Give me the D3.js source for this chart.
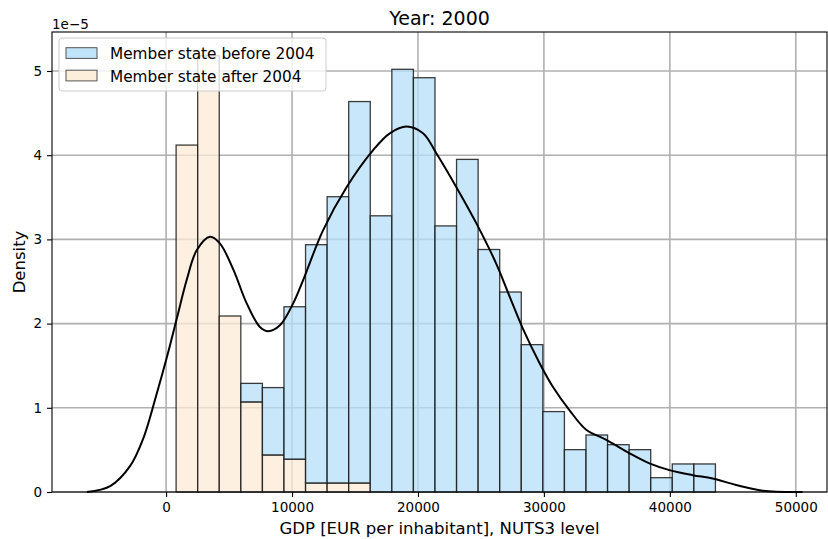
<!DOCTYPE html>
<html>
<head>
<meta charset="utf-8">
<script src="https://cdn.jsdelivr.net/npm/d3@7"></script>
<style>
  body { margin: 0; background: #fff; }
  svg text { font-family: "DejaVu Sans", sans-serif; fill: #000; }
</style>
</head>
<body>
<div id="chart"></div>
<script>
// histogram bins (EUR per inhabitant)
var binEdges = [795, 2508, 4221, 5934, 7647, 9360, 11073, 12786, 14499, 16212, 17925, 19638,
  21351, 23064, 24777, 26490, 28203, 29916, 31629, 33342, 35055, 36768, 38481, 40194, 41907, 43620];

// density in units of 1e-5, stacked
var afterDensity = [4.12, 5.18, 2.09, 1.07, 0.44, 0.39, 0.107, 0.107, 0.107, 0, 0, 0, 0,
  0, 0, 0, 0, 0, 0, 0, 0, 0, 0, 0, 0];
var beforeDensity = [0, 0, 0, 0.22, 0.80, 1.81, 2.83, 3.40, 4.53, 3.28, 5.02, 4.92, 3.16,
  3.95, 2.88, 2.375, 1.75, 0.955, 0.503, 0.677, 0.562, 0.503, 0.170, 0.333, 0.333];

// kde curve
var kdeX = [-6290, -4440, -2850, -1800, -740, 60, 850, 1640, 2430, 3490, 4280, 5340, 6400,
  7450, 8110, 9040, 10090, 10890, 12470, 14330, 16440, 17760, 19090, 20400, 21470, 23050,
  24640, 26220, 27280, 28330, 29660, 30710, 32040, 33360, 34950, 36800, 38380, 39970,
  41820, 43400, 45260, 47370, 50540];
var kdeY = [0.0, 0.07, 0.31, 0.64, 1.17, 1.60, 2.06, 2.52, 2.87, 3.03, 2.95, 2.64, 2.24,
  1.96, 1.91, 1.98, 2.24, 2.52, 3.11, 3.62, 4.06, 4.26, 4.34, 4.26, 4.02, 3.62,
  3.19, 2.71, 2.32, 1.94, 1.53, 1.25, 0.97, 0.74, 0.62, 0.46, 0.34, 0.26,
  0.20, 0.16, 0.083, 0.015, 0.0];

var xTicks = [0, 10000, 20000, 30000, 40000, 50000];
var yTicks = [0, 1, 2, 3, 4, 5];
var seriesNames = ["Member state before 2004", "Member state after 2004"];
var seriesColors = ["#b5dff8", "#fdebd6"];

var W = 828, H = 539;
var m = {left: 52, right: 1, top: 32, bottom: 47};

var svg = d3.select("#chart").append("svg")
    .attr("width", W)
    .attr("height", H);

var x = d3.scaleLinear().domain([-9060, 52480]).range([m.left, W - m.right]);
var y = d3.scaleLinear().domain([0, 5.463]).range([H - m.bottom, m.top]);

// grid
var grid = svg.append("g");
grid.selectAll(".gx").data(xTicks).enter().append("line")
    .attr("x1", d => x(d)).attr("x2", d => x(d))
    .attr("y1", m.top).attr("y2", H - m.bottom)
    .attr("stroke", "#b0b0b0").attr("stroke-width", 1.6);
grid.selectAll(".gy").data(yTicks).enter().append("line")
    .attr("x1", m.left).attr("x2", W - m.right)
    .attr("y1", d => y(d)).attr("y2", d => y(d))
    .attr("stroke", "#b0b0b0").attr("stroke-width", 1.6);

var bins = afterDensity.map(function(a, i) {
  return {x0: binEdges[i], x1: binEdges[i + 1], after: a, before: beforeDensity[i]};
});

var bars = svg.append("g");
bars.selectAll(".after").data(bins).enter().append("rect")
    .attr("x", d => x(d.x0))
    .attr("width", d => x(d.x1) - x(d.x0))
    .attr("y", d => y(d.after))
    .attr("height", d => y(0) - y(d.after))
    .attr("fill", seriesColors[1]).attr("fill-opacity", 0.75)
    .attr("stroke", "#1a1a1a").attr("stroke-width", 1.3).attr("stroke-opacity", 0.85);
bars.selectAll(".before").data(bins.filter(d => d.before > 0)).enter().append("rect")
    .attr("x", d => x(d.x0))
    .attr("width", d => x(d.x1) - x(d.x0))
    .attr("y", d => y(d.after + d.before))
    .attr("height", d => y(d.after) - y(d.after + d.before))
    .attr("fill", seriesColors[0]).attr("fill-opacity", 0.75)
    .attr("stroke", "#1a1a1a").attr("stroke-width", 1.3).attr("stroke-opacity", 0.85);

// kde line
var kde = kdeX.map((d, i) => [d, kdeY[i]]);
svg.append("path")
    .datum(kde)
    .attr("fill", "none")
    .attr("stroke", "#000")
    .attr("stroke-width", 2)
    .attr("d", d3.line().x(d => x(d[0])).y(d => y(d[1])).curve(d3.curveCatmullRom.alpha(0.5)));

// frame
svg.append("rect")
    .attr("x", m.left).attr("y", m.top)
    .attr("width", W - m.right - m.left).attr("height", H - m.bottom - m.top)
    .attr("fill", "none").attr("stroke", "#000").attr("stroke-width", 1.1);

// axes
var xAxis = svg.append("g")
    .attr("transform", "translate(0," + (H - m.bottom) + ")")
    .call(d3.axisBottom(x).tickValues(xTicks).tickSize(5).tickPadding(5).tickFormat(d3.format("d")));
var yAxis = svg.append("g")
    .attr("transform", "translate(" + m.left + ",0)")
    .call(d3.axisLeft(y).tickValues(yTicks).tickSize(5).tickPadding(5).tickFormat(d3.format("d")));
[xAxis, yAxis].forEach(function(a) {
  a.select(".domain").remove();
  a.selectAll("text").style("font-size", "13.5px").style("font-family", "DejaVu Sans");
  a.selectAll("line").attr("stroke", "#000").attr("stroke-width", 1.1);
});

svg.append("text")
    .attr("x", m.left).attr("y", 29)
    .style("font-size", "13.5px")
    .text("1e\u22125");

svg.append("text")
    .attr("x", (m.left + W - m.right) / 2).attr("y", 24.5)
    .attr("text-anchor", "middle")
    .style("font-size", "19px")
    .text("Year: 2000");

svg.append("text")
    .attr("x", (m.left + W - m.right) / 2).attr("y", 534)
    .attr("text-anchor", "middle")
    .style("font-size", "16.5px")
    .text("GDP [EUR per inhabitant], NUTS3 level");

svg.append("text")
    .attr("transform", "translate(25," + ((m.top + H - m.bottom) / 2) + ") rotate(-90)")
    .attr("text-anchor", "middle")
    .style("font-size", "16.5px")
    .text("Density");

// legend
var lg = svg.append("g").attr("transform", "translate(59,38)");
lg.append("rect")
    .attr("width", 267).attr("height", 53).attr("rx", 3)
    .attr("fill", "#fff").attr("fill-opacity", 0.8)
    .attr("stroke", "#cccccc").attr("stroke-width", 1);
seriesNames.forEach(function(name, i) {
  lg.append("rect")
    .attr("x", 7).attr("y", 9.7 + i * 22.5)
    .attr("width", 31).attr("height", 10.7)
    .attr("fill", seriesColors[i]).attr("fill-opacity", 0.85)
    .attr("stroke", "#555").attr("stroke-width", 1);
  lg.append("text")
    .attr("x", 51).attr("y", 21.3 + i * 22.5)
    .style("font-size", "15.3px")
    .text(name);
});
</script>
</body>
</html>
